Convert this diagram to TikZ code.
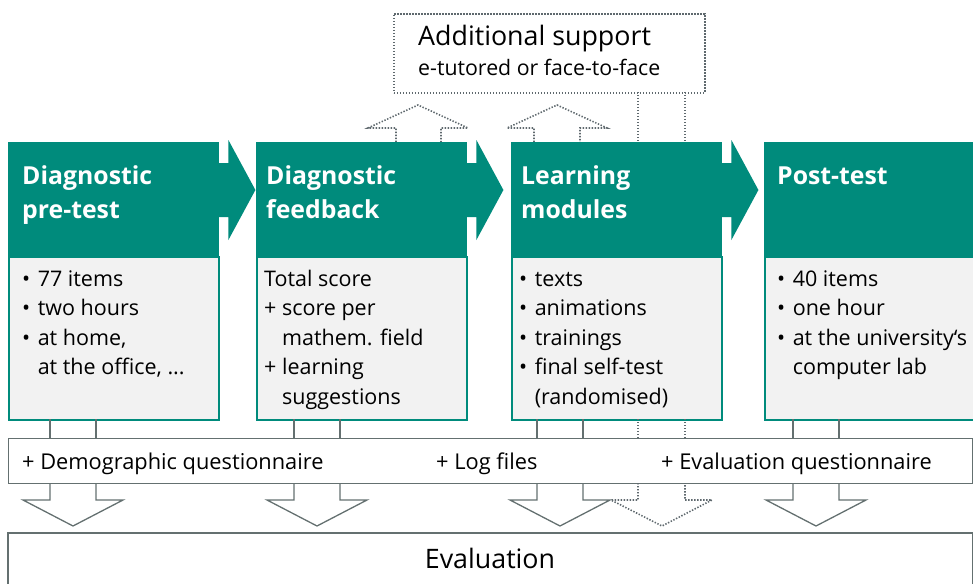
\documentclass[tikz,border=0pt]{standalone}
\usepackage{fontspec}
\setmainfont{Open Sans}
\usetikzlibrary{positioning,calc}
\definecolor{petrol}{RGB}{0,139,124}
\definecolor{lightbody}{RGB}{242,242,242}
\definecolor{framegray}{RGB}{100,112,112}
\definecolor{dotgray}{RGB}{95,105,110}
\newcommand{\itemdot}{\textbullet\hspace{7.5pt}}
\newcommand{\itemgap}{\phantom{\textbullet}\hspace{7.5pt}}
\newcommand{\plusgap}{\phantom{+ }}

\tikzset{
	headbox/.style={fill=petrol, draw=petrol, minimum width=210pt, minimum height=114pt, inner sep=0pt, anchor=north west},
	bodybox/.style={fill=lightbody, draw=petrol, line width=1.5pt, minimum width=210pt, minimum height=163pt, inner sep=0pt, anchor=north west},
	headtext/.style={text=white, font=\fontsize{24.8}{34}\selectfont\bfseries, align=left, anchor=base west, inner sep=0pt},
	bodytext/.style={font=\fontsize{21.5}{29.5}\selectfont, align=left, anchor=base west, inner sep=0pt},
	outline/.style={draw=framegray, line width=1.3pt},
	dotline/.style={draw=dotgray, line width=1.6pt, dash pattern=on 1.4pt off 1.6pt},
}

\begin{document}
\begin{tikzpicture}[x=1pt, y=-1pt]
		\useasboundingbox (0,0) rectangle (973,583);
		%% additional support on top
		\node[dotline, minimum width=311pt, minimum height=79pt, inner sep=0pt, anchor=north west] (support) at (393,13) {};
		\node[font=\fontsize{26.8}{30}\selectfont, anchor=base west, inner sep=0pt] (supporttitle) at (418,46) {Additional support};
		\node[font=\fontsize{21.3}{24}\selectfont, anchor=base west, inner sep=0pt] (supportsub) at (418,76) {e-tutored or face-to-face};
		\draw[dotline] (396,142) -- (396,128) -- (368,128) -- (418,105) -- (468,128) -- (441,128) -- (441,142);
		\draw[dotline] (534,142) -- (534,128) -- (507,128) -- (557,105) -- (607,128) -- (580,128) -- (580,142);
		\draw[dotline] (638,92) -- (638,142) (685,92) -- (685,142);
		%% the four stages
		\foreach \bx/\nm in {8/a,256/b,511/c,764/d}{
			\node[headbox] (head\nm) at (\bx,142) {};
			\node[bodybox] (body\nm) at (\bx,256) {};
		}
		\foreach \nm in {a,b,c}{
			\fill[petrol] ($(head\nm.north east)+(-1,21)$) -- ++(11,0) -- ++(0,-23) -- ++(27,50) -- ++(-27,50) -- ++(0,-23) -- ++(-11,0) -- cycle;
		}
		%% base of a node = baseline of its last line
		\node[headtext] (titlea) at (22,218) {Diagnostic\\pre-test};
		\node[headtext] (titleb) at (266,218) {Diagnostic\\feedback};
		\node[headtext] (titlec) at (521,218) {Learning\\modules};
		\node[headtext] (titled) at (777,184) {Post-test};
		\node[bodytext] (lista) at (22,374.5) {\itemdot 77 items\\\itemdot two hours\\\itemdot at home,\\\itemgap at the office, ...};
		\node[bodytext] (listb) at (264,404) {Total score\\+ score per\\\plusgap mathem. field\\+ learning\\\plusgap suggestions};
		\node[bodytext] (listc) at (519,404) {\itemdot texts\\\itemdot animations\\\itemdot trainings\\\itemdot final self-test\\\itemgap(randomised)};
		\node[bodytext] (listd) at (777,374.5) {\itemdot 40 items\\\itemdot one hour\\\itemdot at the university‘s\\\itemgap computer lab};
		%% questionnaire bar
		\node[outline, fill=white, minimum width=964pt, minimum height=45pt, inner sep=0pt, anchor=north west] (bar) at (8,438) {};
		\node[font=\fontsize{21.8}{25}\selectfont, anchor=base west, inner sep=0pt] (quest) at (22,469) {+ Demographic questionnaire};
		\node[font=\fontsize{21.8}{25}\selectfont, anchor=base west, inner sep=0pt] (logs) at (436,469) {+ Log files};
		\node[font=\fontsize{21.8}{25}\selectfont, anchor=base west, inner sep=0pt] (evalquest) at (661,469) {+ Evaluation questionnaire};
		%% arrows down to the evaluation
		\foreach \l/\r in {50/96,294/340,537/583,793/839}{
			\draw[outline] (\l,419) -- (\l,438) (\r,419) -- (\r,438);
			\draw[outline] (\l,483) -- (\l,500) -- (\l-27,500) -- ({(\l+\r)/2},526) -- (\r+27,500) -- (\r,500) -- (\r,483);
		}
		\draw[dotline] (638,419) -- (638,438) (685,419) -- (685,438);
		\draw[dotline] (638,483) -- (638,500) -- (611,500) -- (662,526) -- (712,500) -- (685,500) -- (685,483);
		%% evaluation
		\node[minimum width=964pt, minimum height=60pt, inner sep=0pt, anchor=north west] (evalbox) at (8,533) {};
		\draw[outline] (evalbox.south west) -- (evalbox.north west) -- (evalbox.north east) -- (evalbox.south east);
		\node[font=\fontsize{26.8}{30}\selectfont, anchor=base, inner sep=0pt] (evaltext) at (490,568) {Evaluation};
\end{tikzpicture}
\end{document}
